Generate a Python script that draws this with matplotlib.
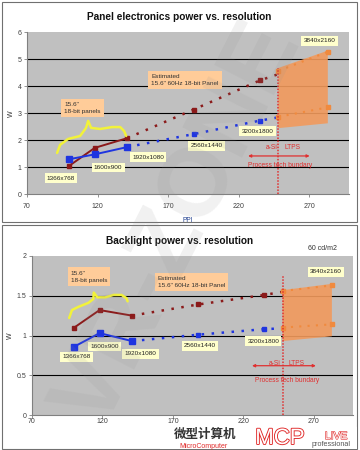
import matplotlib
matplotlib.use('Agg')
import matplotlib.pyplot as plt
import matplotlib.patheffects as pe
from matplotlib.patches import Rectangle, Polygon

plt.rcParams['font.family'] = ['Liberation Sans', 'DejaVu Sans']

# ---------------- data ----------------
ppi = [100, 118, 141, 188, 235]
res_labels = ['1366x768', '1600x900', '1920x1080', '2560x1440', '3200x1800', '3840x2160']
boundary_ppi = 248
ppi_4k = 283

top_red = [1.06, 1.72, 2.08, 3.14, 4.22]
top_blue = [1.30, 1.48, 1.75, 2.23, 2.73]
top_red_edge = 4.45
top_blue_edge = 2.85
top_red_ltps = [4.57, 5.28]
top_blue_ltps = [2.87, 3.22]
top_band_hi = [4.68, 5.32]
top_band_lo = [2.45, 2.63]

bot_red = [1.10, 1.32, 1.25, 1.39, 1.51]
bot_blue = [0.86, 1.03, 0.93, 1.01, 1.08]
bot_red_edge = 1.55
bot_blue_edge = 1.09
bot_red_ltps = [1.56, 1.63]
bot_blue_ltps = [1.10, 1.14]
bot_band_hi = [1.57, 1.65]
bot_band_lo = [0.93, 0.99]

x_ticks = [70, 120, 170, 220, 270]
top_yticks = [0, 1, 2, 3, 4, 5, 6]
bot_yticks = [0, 0.5, 1, 1.5, 2]

# brace decorations (data coords)
top_brace_x = [91.3, 93.4, 99.1, 107.6, 111.8, 113.3, 115.4, 121.8, 130.3, 136.0, 138.8, 140.2]
top_brace_y = [1.53, 1.83, 2.05, 2.16, 2.46, 2.72, 2.46, 2.42, 2.49, 2.49, 2.34, 2.16]
bot_brace_x = [96.4, 98.4, 102.9, 110.0, 113.6, 113.9, 116.4, 122.1, 127.9, 133.6, 137.1, 137.9]
bot_brace_y = [1.22, 1.32, 1.36, 1.41, 1.46, 1.54, 1.48, 1.48, 1.51, 1.51, 1.47, 1.43]

RED = '#8B1A1A'
BLUE = '#1F35E0'
ORANGE = '#F08A3E'
BAND = '#F29A5C'
PROC = '#E03030'
LBLBOX = '#FFFFCC'
ORBOX = '#FFCC99'

fig = plt.figure(figsize=(3.6, 4.5), dpi=100)
W, H = 360.0, 450.0


def px(x, y):
    return x / W, 1 - y / H


# panel borders
for (x0, y0, x1, y1) in [(2, 2, 357, 222), (2, 225, 357, 449)]:
    fig.patches.append(Rectangle(px(x0, y1), (x1 - x0) / W, (y1 - y0) / H,
                                 transform=fig.transFigure, fill=False,
                                 ec='#707070', lw=0.8))


def draw(ax, red, blue, red_edge, blue_edge, red_l, blue_l, band_hi, band_lo, ymax, yticks):
    ax.set_facecolor('#C0C0C0')
    ax.set_xlim(70, 298)
    ax.set_ylim(0, ymax)
    ax.set_xticks(x_ticks)
    ax.set_yticks(yticks)
    ax.set_yticklabels(['%g' % v for v in yticks])
    for v in yticks[1:-1]:
        ax.axhline(v, color='black', lw=0.8, zorder=1)
    for s in ['top', 'right']:
        ax.spines[s].set_visible(False)
    for s in ['left', 'bottom']:
        ax.spines[s].set_color('#808080')
        ax.spines[s].set_linewidth(0.8)
    ax.tick_params(length=2, width=0.6, color='#808080', labelsize=5, labelcolor='#404040', pad=2)
    ax.tick_params(axis='x', pad=4)
    # orange band
    ax.add_patch(Polygon([(boundary_ppi, band_hi[0]), (ppi_4k, band_hi[1]),
                          (ppi_4k, band_lo[1]), (boundary_ppi, band_lo[0])],
                         closed=True, fc=BAND, ec='none', alpha=0.9, zorder=2))
    # solid measured
    ax.plot(ppi[:3], red[:3], color=RED, lw=1.4, marker='s', ms=3.2, zorder=4)
    ax.plot(ppi[:3], blue[:3], color=BLUE, lw=1.4, marker='s', ms=3.8, zorder=4)
    # estimated dotted
    ax.plot(ppi[2:] + [boundary_ppi], red[2:] + [red_edge], color=RED, lw=1.8,
            ls=(0, (1.0, 3.0)), zorder=3)
    ax.plot(ppi[2:] + [boundary_ppi], blue[2:] + [blue_edge], color=BLUE, lw=1.8,
            ls=(0, (1.0, 3.0)), zorder=3)
    ax.plot(ppi[3:], red[3:], ls='none', marker='s', ms=3.2, color=RED, zorder=4)
    ax.plot(ppi[3:], blue[3:], ls='none', marker='s', ms=3.2, color=BLUE, zorder=4)
    # LTPS extension
    ax.plot([boundary_ppi, ppi_4k], red_l, color=ORANGE, lw=1.5, ls=(0, (1.0, 3.0)),
            marker='s', ms=2.5, zorder=4)
    ax.plot([boundary_ppi, ppi_4k], blue_l, color=ORANGE, lw=1.5, ls=(0, (1.0, 3.0)),
            marker='s', ms=2.5, zorder=4)
    # boundary line
    ax.plot([boundary_ppi, boundary_ppi], [0, band_hi[0]], color=PROC, lw=1.1,
            ls=(0, (1, 1)), zorder=5)


def lbl(ax, x, y, s, ha='center'):
    ax.text(x, y, s, fontsize=4.6, ha=ha, va='center', color='#202020', zorder=6,
            bbox=dict(boxstyle='square,pad=0.35', fc=LBLBOX, ec='none'))


def obox(ax, x, y, s):
    ax.text(x, y, s, fontsize=4.6, ha='left', va='center', color='#303030', zorder=6,
            linespacing=1.5,
            bbox=dict(boxstyle='square,pad=0.5', fc=ORBOX, ec='none'))


# ---------------- top chart ----------------
ax1 = fig.add_axes([27 / W, 1 - 194.3 / H, 322 / W, 162 / H])
draw(ax1, top_red, top_blue, top_red_edge, top_blue_edge, top_red_ltps, top_blue_ltps,
     top_band_hi, top_band_lo, 6, top_yticks)
ax1.plot(top_brace_x, top_brace_y, color='#F2F23A', lw=1.8, zorder=5, solid_capstyle='round')
lbl(ax1, 94.1, 0.60, res_labels[0])
lbl(ax1, 127.4, 1.0, res_labels[1])
lbl(ax1, 155.8, 1.38, res_labels[2])
lbl(ax1, 197.0, 1.79, res_labels[3])
lbl(ax1, 233.1, 2.34, res_labels[4])
lbl(ax1, 277.1, 5.68, res_labels[5])
obox(ax1, 158, 4.23, 'Estimated\n15.6" 60Hz 18-bit Panel')
obox(ax1, 96.5, 3.2, '15.6"\n18-bit panels')
ax1.text(243, 1.75, 'a-Si', fontsize=4.8, color=PROC, ha='center', va='center', zorder=6)
ax1.text(258, 1.75, 'LTPS', fontsize=4.8, color=PROC, ha='center', va='center', zorder=6)
ax1.annotate('', xy=(224.6, 1.42), xytext=(272.1, 1.42),
             arrowprops=dict(arrowstyle='<|-|>', color=PROC, lw=0.9,
                             mutation_scale=4), zorder=6)
ax1.text(249.4, 1.08, 'Process tech bundary', fontsize=4.8, color=PROC,
         ha='center', va='center', zorder=6)
ax1.set_xlabel('PPI', fontsize=4.8, color='#1F3F8F', labelpad=5)
ax1.set_ylabel('W', fontsize=5, color='#303030', labelpad=2)
fig.text(*px(179, 17), 'Panel electronics power vs. resolution', fontsize=7.3,
         fontweight='bold', ha='center', va='center', color='#111111')

# ---------------- bottom chart ----------------
ax2 = fig.add_axes([32 / W, 1 - 415 / H, 321 / W, 159 / H])
draw(ax2, bot_red, bot_blue, bot_red_edge, bot_blue_edge, bot_red_ltps, bot_blue_ltps,
     bot_band_hi, bot_band_lo, 2, bot_yticks)
ax2.tick_params(axis='x', pad=0.5)
ax2.plot([boundary_ppi, boundary_ppi], [bot_band_hi[0], 1.76], color=PROC, lw=1.1,
         ls=(0, (1, 1)), zorder=5)
ax2.plot(bot_brace_x, bot_brace_y, color='#F2F23A', lw=1.8, zorder=5, solid_capstyle='round')
lbl(ax2, 101.4, 0.73, res_labels[0])
lbl(ax2, 121.4, 0.86, res_labels[1])
lbl(ax2, 147.1, 0.77, res_labels[2])
lbl(ax2, 189.3, 0.87, res_labels[3])
lbl(ax2, 234.3, 0.93, res_labels[4])
lbl(ax2, 278.6, 1.80, res_labels[5])
obox(ax2, 159.3, 1.67, 'Estimated\n15.6" 60Hz 18-bit Panel')
obox(ax2, 97.5, 1.74, '15.6"\n18-bit panels')
ax2.annotate('', xy=(224.3, 0.62), xytext=(273.6, 0.62),
             arrowprops=dict(arrowstyle='<|-|>', color=PROC, lw=0.9,
                             mutation_scale=4), zorder=6)
ax2.text(242, 0.65, 'a-Si', fontsize=4.8, color=PROC, ha='center', va='center', zorder=6)
ax2.text(258, 0.65, 'LTPS', fontsize=4.8, color=PROC, ha='center', va='center', zorder=6)
ax2.text(251, 0.44, 'Process tech bundary', fontsize=4.8, color=PROC,
         ha='center', va='center', zorder=6)
ax2.set_ylabel('W', fontsize=5, color='#303030', labelpad=2)
fig.text(*px(180, 241), 'Backlight power vs. resolution', fontsize=7.3,
         fontweight='bold', ha='center', va='center', color='#111111')
fig.text(*px(322, 248), '60 cd/m2', fontsize=5, ha='center', va='center', color='#303030')

# ---------------- watermark ----------------
fig.text(0.5, 0.5, 'VR-ZONE', fontsize=70, rotation=63, color='#909090', alpha=0.12,
         ha='center', va='center', fontweight='bold', zorder=10)

# ---------------- logo ----------------
fig.patches.append(Rectangle(px(160, 449), 197 / W, 22 / H, transform=fig.transFigure,
                             fc='white', ec='none', zorder=11))
fig.text(*px(205, 434.5), '微型计算机', fontsize=9, fontweight='bold',
         family=['Noto Sans CJK SC'], ha='center', va='center', color='#333333', zorder=12)
fig.text(*px(203, 446.6), 'MicroComputer', fontsize=5, ha='center', va='center',
         color='#E02828', zorder=12)
fig.text(*px(280, 449), 'MCP', fontsize=16, ha='center', va='bottom',
         color='white', zorder=12,
         path_effects=[pe.withStroke(linewidth=1.3, foreground='#E02828')])
fig.text(*px(336, 436), 'LIVE', fontsize=7.5, ha='center', va='center',
         color='white', zorder=12,
         path_effects=[pe.withStroke(linewidth=0.8, foreground='#E02828')])
fig.text(*px(331, 445), 'professional', fontsize=5.2, ha='center', va='center',
         color='#555555', zorder=12)

fig.savefig('out.png', dpi=100)
